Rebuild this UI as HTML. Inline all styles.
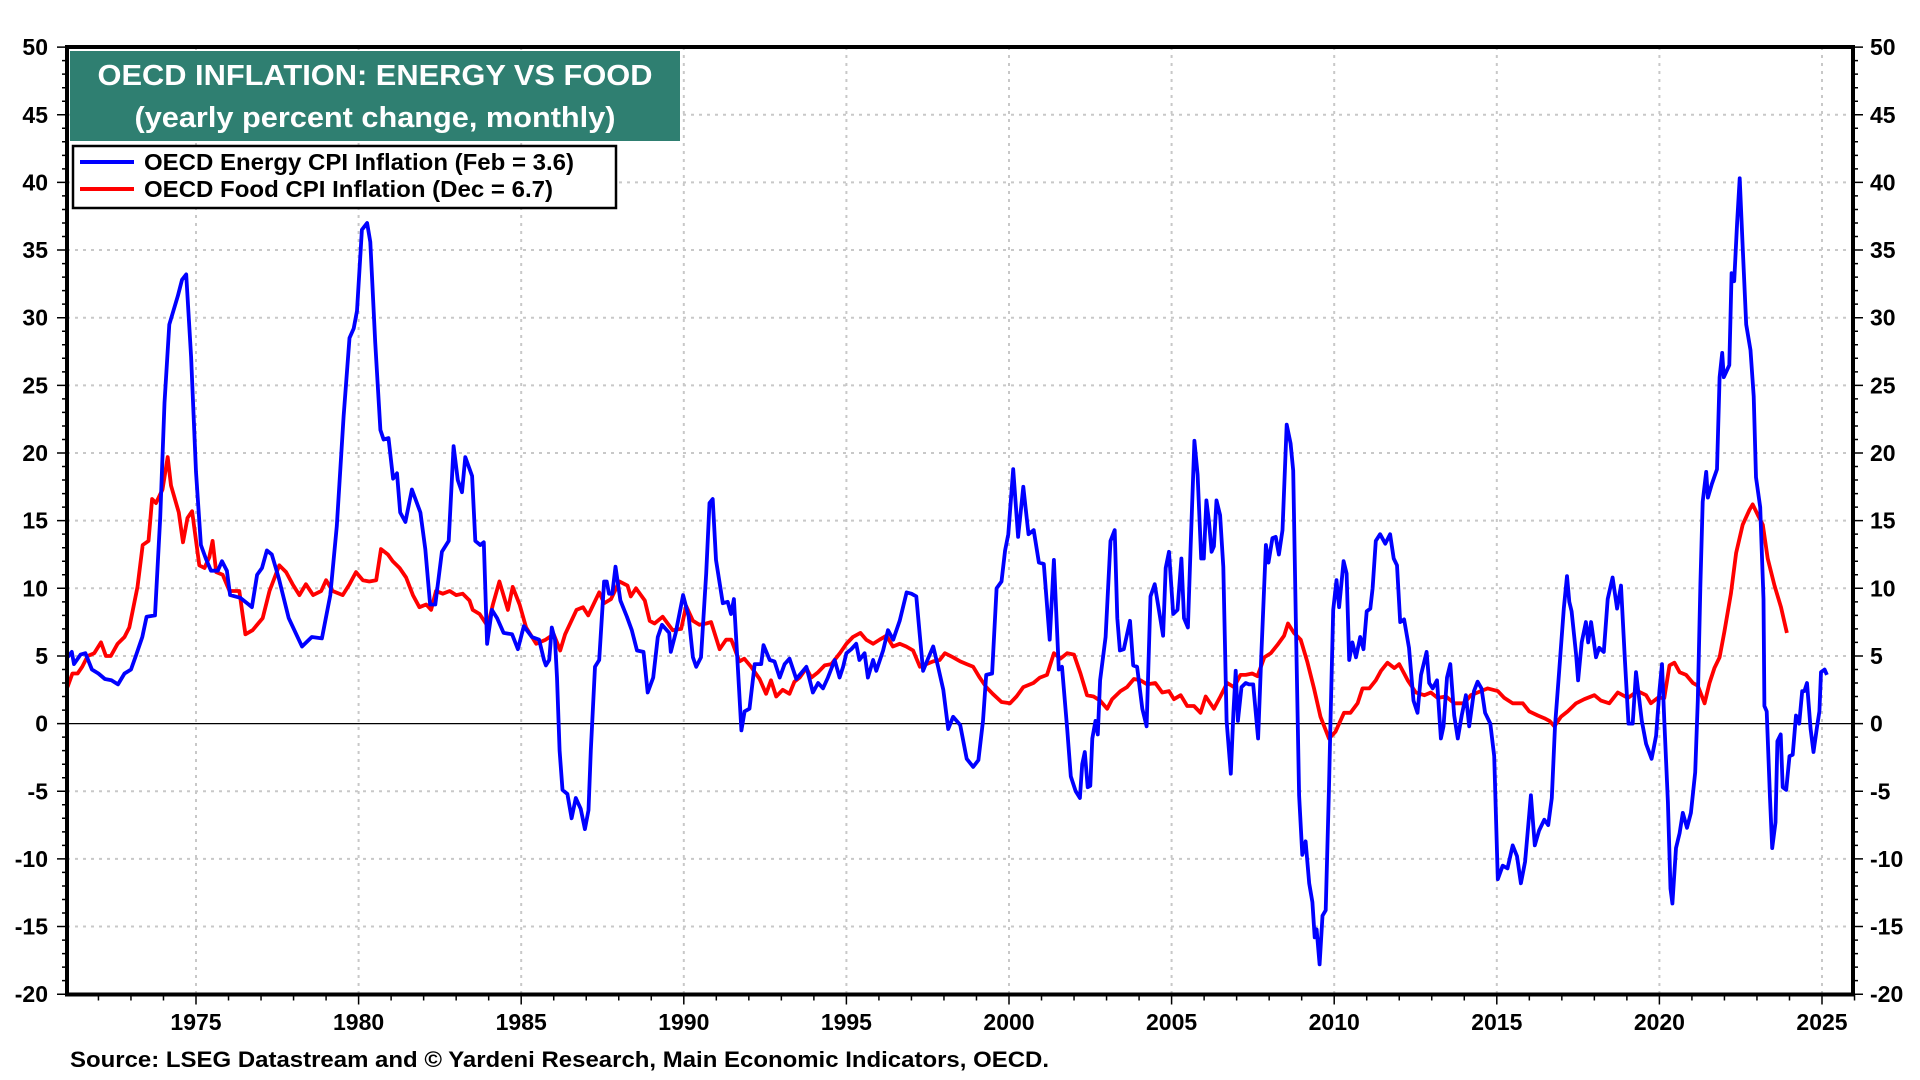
<!DOCTYPE html>
<html><head><meta charset="utf-8"><style>
html,body{margin:0;padding:0;background:#fff;}
svg{display:block;font-family:"Liberation Sans",Arial,sans-serif;font-weight:bold;}
</style></head><body>
<svg id="chart" width="1920" height="1080" viewBox="0 0 1920 1080" xmlns="http://www.w3.org/2000/svg">
<g id="grid"></g>
<line x1="67" x2="1853" y1="723.6" y2="723.6" stroke="#000" stroke-width="1.2"/>
<g id="series"></g>
<g id="axes"></g>
<rect x="70" y="51" width="610" height="90" fill="#2f7f71"/>
<text x="375" y="85" text-anchor="middle" fill="#fff" font-size="29" textLength="555" lengthAdjust="spacingAndGlyphs">OECD INFLATION: ENERGY VS FOOD</text>
<text x="375" y="127" text-anchor="middle" fill="#fff" font-size="29" textLength="481" lengthAdjust="spacingAndGlyphs">(yearly percent change, monthly)</text>
<g>
<rect x="73" y="146" width="543" height="62" fill="#fff" stroke="#000" stroke-width="2.5"/>
<line x1="80" x2="134" y1="162" y2="162" stroke="#0000ff" stroke-width="4"/>
<text x="144" y="170" font-size="23" textLength="430" lengthAdjust="spacingAndGlyphs">OECD Energy CPI Inflation (Feb = 3.6)</text>
<line x1="80" x2="134" y1="189" y2="189" stroke="#ff0000" stroke-width="4"/>
<text x="144" y="197" font-size="23" textLength="409" lengthAdjust="spacingAndGlyphs">OECD Food CPI Inflation (Dec = 6.7)</text>
</g>
<text x="70" y="1067" font-size="22" textLength="979" lengthAdjust="spacingAndGlyphs">Source: LSEG Datastream and © Yardeni Research, Main Economic Indicators, OECD.</text>
</svg>
<script>
const yTicks=[50,45,40,35,30,25,20,15,10,5,0,-5,-10,-15,-20];
const xTicks=[1975,1980,1985,1990,1995,2000,2005,2010,2015,2020,2025];
const energyYears=[1971.05,1971.18,1971.25,1971.45,1971.6,1971.8,1972.0,1972.2,1972.4,1972.6,1972.8,1973.0,1973.15,1973.35,1973.48,1973.74,1973.9,1974.03,1974.18,1974.44,1974.57,1974.7,1974.85,1975.0,1975.15,1975.3,1975.46,1975.67,1975.8,1975.95,1976.05,1976.36,1976.62,1976.72,1976.88,1977.03,1977.18,1977.33,1977.54,1977.85,1978.26,1978.56,1978.87,1979.13,1979.33,1979.54,1979.72,1979.85,1979.95,1980.1,1980.26,1980.36,1980.51,1980.67,1980.77,1980.92,1981.06,1981.18,1981.28,1981.44,1981.64,1981.9,1982.05,1982.2,1982.36,1982.56,1982.77,1982.92,1983.05,1983.18,1983.28,1983.49,1983.59,1983.74,1983.85,1983.95,1984.1,1984.26,1984.46,1984.72,1984.9,1985.08,1985.33,1985.55,1985.7,1985.76,1985.86,1985.94,1986.04,1986.1,1986.18,1986.27,1986.42,1986.55,1986.68,1986.83,1986.96,1987.07,1987.14,1987.27,1987.4,1987.55,1987.63,1987.7,1987.8,1987.9,1988.05,1988.25,1988.4,1988.56,1988.76,1988.89,1989.06,1989.2,1989.33,1989.55,1989.6,1989.75,1989.98,1990.15,1990.28,1990.38,1990.53,1990.69,1990.79,1990.89,1990.99,1991.2,1991.35,1991.45,1991.54,1991.66,1991.77,1991.87,1992.02,1992.18,1992.38,1992.45,1992.64,1992.79,1992.95,1993.1,1993.25,1993.46,1993.77,1993.97,1994.13,1994.28,1994.43,1994.64,1994.79,1994.9,1995.0,1995.15,1995.3,1995.4,1995.56,1995.66,1995.82,1995.92,1996.13,1996.28,1996.44,1996.64,1996.85,1997.0,1997.15,1997.25,1997.36,1997.51,1997.67,1997.82,1997.98,1998.13,1998.28,1998.5,1998.7,1998.9,1999.06,1999.2,1999.3,1999.48,1999.62,1999.77,1999.88,1999.98,2000.13,2000.28,2000.44,2000.6,2000.76,2000.92,2001.07,2001.2,2001.25,2001.38,2001.53,2001.63,2001.79,2001.9,2002.05,2002.18,2002.25,2002.33,2002.42,2002.5,2002.56,2002.66,2002.73,2002.8,2002.97,2003.12,2003.25,2003.33,2003.41,2003.53,2003.72,2003.82,2003.94,2004.1,2004.23,2004.35,2004.48,2004.61,2004.74,2004.82,2004.92,2005.05,2005.18,2005.3,2005.38,2005.5,2005.58,2005.7,2005.8,2005.91,2005.99,2006.07,2006.15,2006.23,2006.3,2006.38,2006.49,2006.59,2006.69,2006.82,2006.9,2006.97,2007.04,2007.15,2007.28,2007.38,2007.51,2007.66,2007.76,2007.9,2007.98,2008.1,2008.2,2008.3,2008.41,2008.54,2008.66,2008.74,2008.82,2008.92,2009.02,2009.12,2009.23,2009.33,2009.4,2009.46,2009.55,2009.64,2009.74,2009.84,2009.89,2009.97,2010.07,2010.15,2010.29,2010.38,2010.46,2010.56,2010.67,2010.8,2010.9,2011.0,2011.11,2011.18,2011.28,2011.41,2011.57,2011.72,2011.83,2011.93,2012.03,2012.15,2012.3,2012.44,2012.56,2012.67,2012.84,2012.92,2013.03,2013.16,2013.28,2013.36,2013.47,2013.57,2013.69,2013.8,2013.92,2014.05,2014.15,2014.3,2014.41,2014.53,2014.64,2014.8,2014.92,2015.03,2015.18,2015.33,2015.49,2015.62,2015.74,2015.87,2016.05,2016.17,2016.3,2016.46,2016.58,2016.69,2016.79,2016.92,2017.06,2017.16,2017.23,2017.3,2017.44,2017.5,2017.61,2017.74,2017.81,2017.9,2018.05,2018.15,2018.29,2018.41,2018.56,2018.7,2018.82,2018.94,2019.05,2019.18,2019.28,2019.46,2019.59,2019.76,2019.9,2020.0,2020.08,2020.15,2020.26,2020.34,2020.4,2020.51,2020.62,2020.72,2020.85,2020.97,2021.1,2021.18,2021.26,2021.33,2021.44,2021.49,2021.61,2021.77,2021.85,2021.93,2021.98,2022.15,2022.22,2022.3,2022.39,2022.47,2022.56,2022.67,2022.8,2022.9,2022.97,2023.1,2023.2,2023.23,2023.3,2023.4,2023.47,2023.57,2023.63,2023.73,2023.79,2023.9,2024.0,2024.1,2024.2,2024.3,2024.39,2024.46,2024.54,2024.65,2024.74,2024.85,2024.92,2024.97,2025.08,2025.15];
const energyValues=[4.9,5.3,4.4,5.1,5.2,4.0,3.7,3.3,3.2,2.9,3.7,4.0,5.0,6.4,7.9,8.0,15.2,23.7,29.5,31.6,32.8,33.2,27.1,18.6,13.2,12.2,11.3,11.3,12.0,11.3,9.5,9.3,8.8,8.6,11.0,11.5,12.8,12.5,10.8,7.8,5.7,6.4,6.3,9.5,14.6,22.7,28.5,29.2,30.5,36.5,37.0,35.6,28.2,21.7,21.0,21.1,18.1,18.5,15.6,14.9,17.3,15.6,12.9,8.8,8.8,12.7,13.5,20.5,18.0,17.1,19.7,18.3,13.5,13.2,13.4,5.9,8.4,7.8,6.7,6.6,5.5,7.2,6.4,6.2,4.7,4.3,4.7,7.1,6.2,3.4,-2.0,-4.9,-5.2,-7.0,-5.5,-6.3,-7.8,-6.4,-2.0,4.2,4.7,10.5,10.5,9.6,9.6,11.6,9.1,7.9,6.9,5.4,5.3,2.3,3.4,6.4,7.3,6.7,5.3,6.7,9.5,7.9,4.9,4.2,4.9,11.1,16.3,16.6,12.1,8.9,9.0,8.1,9.2,4.2,-0.5,0.9,1.1,4.4,4.4,5.8,4.7,4.6,3.4,4.4,4.8,3.3,4.2,2.3,3.0,2.6,3.4,4.7,3.4,4.2,5.2,5.5,5.9,4.7,5.2,3.4,4.7,3.9,5.4,6.9,6.2,7.6,9.7,9.6,9.4,6.7,3.9,4.8,5.7,4.2,2.5,-0.4,0.5,-0.1,-2.6,-3.2,-2.7,0.2,3.6,3.7,10.0,10.5,12.8,14.0,18.8,13.8,17.5,14.0,14.3,11.9,11.8,7.8,6.2,12.1,4.0,4.2,-0.4,-3.9,-5.0,-5.5,-3.0,-2.1,-4.7,-4.6,-1.1,0.2,-0.8,3.2,6.4,13.5,14.3,7.8,5.4,5.5,7.6,4.3,4.2,1.1,-0.2,9.4,10.3,8.4,6.5,11.5,12.7,8.1,8.4,12.2,7.8,7.1,12.8,20.9,18.4,12.2,12.2,16.5,14.9,12.7,13.1,16.5,15.4,11.6,0.2,-3.7,0.8,3.9,0.2,2.7,3.0,2.9,2.9,-1.1,5.2,13.2,11.9,13.7,13.8,12.5,14.3,22.1,20.7,18.7,7.8,-5.3,-9.7,-8.7,-11.8,-13.2,-15.8,-15.2,-17.8,-14.2,-13.8,-4.7,0.5,8.4,10.6,8.6,12.0,11.1,4.7,6.0,4.9,6.4,5.5,8.3,8.5,10.0,13.5,14.0,13.3,14.0,12.2,11.7,7.5,7.7,5.6,1.7,0.8,3.6,5.3,3.0,2.6,3.2,-1.1,-0.2,3.4,4.4,0.6,-1.1,0.6,2.1,-0.2,2.4,3.1,2.6,0.8,0.0,-2.4,-11.5,-10.5,-10.7,-9.0,-9.8,-11.8,-10.2,-5.3,-9.0,-7.9,-7.1,-7.5,-5.5,-0.2,3.9,8.5,10.9,9.0,8.3,5.1,3.2,6.0,7.5,6.0,7.5,4.9,5.6,5.3,9.2,10.8,8.5,10.2,4.7,0.0,0.0,3.8,0.2,-1.5,-2.6,-0.9,2.4,4.4,0.2,-5.8,-12.2,-13.3,-9.2,-8.1,-6.6,-7.7,-6.6,-3.6,1.7,10.3,16.4,18.6,16.7,17.7,18.8,25.6,27.4,25.6,26.5,33.3,32.7,37.0,40.3,35.2,29.5,27.6,24.2,18.2,16.0,9.2,1.3,0.9,-5.5,-9.2,-7.3,-1.3,-0.8,-4.7,-4.9,-2.4,-2.3,0.6,0.0,2.4,2.4,3.0,-0.4,-2.1,-0.2,0.9,3.8,4.0,3.6];
const foodYears=[1971.05,1971.2,1971.36,1971.5,1971.67,1971.87,1972.08,1972.23,1972.38,1972.59,1972.8,1972.95,1973.05,1973.2,1973.36,1973.54,1973.65,1973.77,1973.97,1974.13,1974.23,1974.47,1974.6,1974.74,1974.88,1975.1,1975.26,1975.41,1975.51,1975.62,1975.82,1976.03,1976.33,1976.52,1976.74,1977.05,1977.26,1977.56,1977.77,1977.97,1978.18,1978.38,1978.6,1978.85,1979.0,1979.2,1979.51,1979.72,1979.92,1980.13,1980.33,1980.54,1980.69,1980.9,1981.05,1981.26,1981.46,1981.67,1981.87,1982.08,1982.23,1982.38,1982.59,1982.8,1983.0,1983.2,1983.41,1983.51,1983.72,1983.97,1984.13,1984.33,1984.59,1984.74,1984.95,1985.15,1985.46,1985.75,1986.0,1986.2,1986.35,1986.7,1986.9,1987.06,1987.4,1987.55,1987.76,1988.02,1988.27,1988.37,1988.53,1988.8,1988.95,1989.1,1989.35,1989.66,1989.92,1990.07,1990.28,1990.48,1990.69,1990.84,1991.1,1991.3,1991.46,1991.71,1991.86,1992.07,1992.33,1992.53,1992.68,1992.84,1993.04,1993.25,1993.4,1993.56,1993.77,1993.92,1994.13,1994.33,1994.54,1994.8,1995.0,1995.2,1995.43,1995.61,1995.82,1996.02,1996.23,1996.43,1996.64,1996.84,1997.05,1997.26,1997.46,1997.67,1997.87,1998.03,1998.28,1998.5,1998.7,1998.9,1999.1,1999.3,1999.5,1999.77,2000.03,2000.23,2000.44,2000.75,2000.95,2001.17,2001.38,2001.58,2001.79,2002.0,2002.2,2002.4,2002.6,2002.8,2003.02,2003.17,2003.43,2003.63,2003.84,2004.04,2004.25,2004.5,2004.71,2004.92,2005.07,2005.28,2005.48,2005.69,2005.89,2006.05,2006.3,2006.5,2006.71,2006.92,2007.12,2007.28,2007.48,2007.64,2007.85,2008.05,2008.25,2008.46,2008.58,2008.76,2008.97,2009.17,2009.38,2009.58,2009.84,2010.04,2010.3,2010.5,2010.72,2010.87,2011.08,2011.28,2011.44,2011.64,2011.85,2012.0,2012.26,2012.51,2012.77,2012.97,2013.18,2013.44,2013.69,2014.0,2014.2,2014.41,2014.72,2015.03,2015.23,2015.49,2015.8,2016.0,2016.26,2016.46,2016.62,2016.77,2016.97,2017.18,2017.44,2017.69,2018.0,2018.2,2018.46,2018.72,2019.03,2019.33,2019.59,2019.74,2019.95,2020.15,2020.31,2020.46,2020.62,2020.82,2021.03,2021.18,2021.39,2021.54,2021.69,2021.85,2022.0,2022.2,2022.36,2022.56,2022.77,2022.87,2023.03,2023.18,2023.33,2023.54,2023.74,2023.92];
const foodValues=[2.7,3.7,3.7,4.2,5.0,5.2,6.0,5.0,5.0,5.9,6.4,7.1,8.3,10.1,13.2,13.5,16.6,16.3,17.3,19.7,17.6,15.6,13.4,15.2,15.7,11.7,11.5,12.3,13.5,11.2,11.0,9.8,9.8,6.6,6.9,7.8,9.8,11.7,11.2,10.3,9.5,10.3,9.5,9.8,10.6,9.8,9.5,10.3,11.2,10.6,10.5,10.6,12.9,12.5,12.0,11.5,10.8,9.5,8.6,8.8,8.4,9.8,9.6,9.8,9.5,9.6,9.1,8.4,8.1,7.2,8.8,10.5,8.4,10.1,8.8,7.1,5.9,6.2,6.6,5.4,6.6,8.4,8.6,8.0,9.7,8.9,9.2,10.5,10.2,9.4,10.0,9.1,7.6,7.4,7.9,6.9,7.0,8.7,7.6,7.3,7.4,7.5,5.5,6.2,6.2,4.6,4.8,4.2,3.3,2.2,3.2,2.0,2.5,2.2,3.1,3.4,4.1,3.4,3.8,4.3,4.4,5.2,5.9,6.4,6.7,6.2,5.9,6.2,6.5,5.7,5.9,5.7,5.4,4.2,4.4,4.6,4.7,5.2,4.9,4.6,4.4,4.2,3.4,2.7,2.2,1.6,1.5,2.0,2.7,3.0,3.4,3.6,5.2,4.8,5.2,5.1,3.7,2.1,2.0,1.7,1.1,1.8,2.4,2.7,3.3,3.2,2.9,3.0,2.3,2.4,1.8,2.1,1.3,1.3,0.8,2.0,1.1,2.0,3.0,2.7,3.6,3.6,3.7,3.5,4.9,5.2,5.8,6.5,7.4,6.7,6.2,4.6,2.6,0.5,-1.1,-0.6,0.8,0.8,1.5,2.6,2.6,3.2,3.9,4.5,4.1,4.4,3.2,2.3,2.1,2.3,1.9,2.0,1.5,1.5,2.1,2.3,2.6,2.4,1.9,1.5,1.5,0.9,0.6,0.4,0.2,-0.2,0.5,0.9,1.5,1.8,2.1,1.7,1.5,2.3,1.9,2.4,2.1,1.5,1.9,1.9,4.3,4.5,3.8,3.6,3.0,2.8,1.5,3.0,4.1,4.9,6.8,9.6,12.6,14.7,15.8,16.2,15.4,14.7,12.2,10.2,8.6,6.7];

const L=67,R=1853,T=47,B=994.5;
function xs(yr){return 196+(yr-1975)*32.52;}
function ys(v){return 723.6-v*13.53;}
const NS='http://www.w3.org/2000/svg';
function mk(tag,attrs,parent){const e=document.createElementNS(NS,tag);for(const k in attrs)e.setAttribute(k,attrs[k]);parent.appendChild(e);return e;}
const grid=document.getElementById('grid'),axes=document.getElementById('axes'),series=document.getElementById('series');
yTicks.forEach(v=>{
  if(v!==0&&v!==50&&v!==-20){const g=mk('line',{x1:L,x2:R,y1:ys(v),y2:ys(v),stroke:'#c8c8c8','stroke-width':2,'stroke-dasharray':'3,5'},grid);
  
  }
  const tl=mk('text',{x:48,y:ys(v)+8,'text-anchor':'end','font-size':23},axes);tl.textContent=v;
  
  
  const tr=mk('text',{x:1870,y:ys(v)+8,'text-anchor':'start','font-size':23},axes);tr.textContent=v;
  
  
});
xTicks.forEach(yr=>{
  const g=mk('line',{x1:xs(yr),x2:xs(yr),y1:T,y2:B,stroke:'#c8c8c8','stroke-width':2,'stroke-dasharray':'3,5'},grid);
  
  
  const t=mk('text',{x:xs(yr),y:1030,'text-anchor':'middle','font-size':23},axes);t.textContent=yr;
  
  
});
let tk='';
for(let v=-20;v<=50;v++){const len=(v%5===0)?10:5;tk+=`M${L-len},${ys(v)}H${L}M${R},${ys(v)}H${R+len}`;}
for(let yr=1972;yr<=2026;yr++){const len=(yr%5===0)?10:6;tk+=`M${xs(yr)},${B}V${B+len}`;}
const ticks=mk('path',{d:tk,stroke:'#000','stroke-width':1.5,fill:'none'},axes);


const frame=mk('rect',{x:L,y:T,width:R-L,height:B-T,fill:'none',stroke:'#000','stroke-width':4},axes);


function line(xa,va,color,name){
  let d='';xa.forEach((x,i)=>{d+=(i?'L':'M')+xs(x).toFixed(1)+','+ys(va[i]).toFixed(1);});
  const p=mk('path',{d:d,fill:'none',stroke:color,'stroke-width':3.8,'stroke-linejoin':'round'},series);
  
  
}
line(foodYears,foodValues,'#ff0000','food-cpi-line');
line(energyYears,energyValues,'#0000ff','energy-cpi-line');
</script>
</body></html>
